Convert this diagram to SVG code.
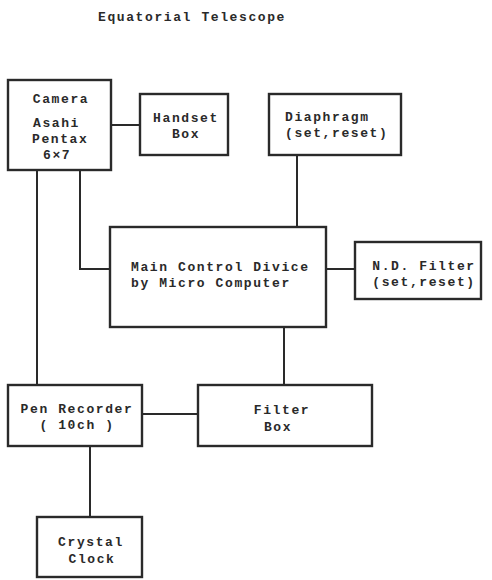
<svg xmlns="http://www.w3.org/2000/svg" width="492" height="580" viewBox="0 0 492 580">
<style>
.box{fill:none;stroke:#2a2a2a;stroke-width:2.4}
.ln{fill:none;stroke:#2a2a2a;stroke-width:2}
text{font-family:"Liberation Mono","DejaVu Sans Mono",monospace;font-size:13px;font-weight:bold;fill:#2a2a2a;letter-spacing:1.6px}
.m{text-anchor:middle}
</style>
<rect width="492" height="580" fill="#fff"/>
<text x="98" y="21">Equatorial Telescope</text>
<g id="connectors">
<path class="ln" d="M111 125H140"/>
<path class="ln" d="M297 156V227"/>
<path class="ln" d="M37 171V385"/>
<path class="ln" d="M80 171V269H110"/>
<path class="ln" d="M326 269H355"/>
<path class="ln" d="M284 327V385"/>
<path class="ln" d="M142 414H198"/>
<path class="ln" d="M90 446V517"/>
</g>
<g id="camera">
<rect class="box" x="8" y="80" width="103" height="90"/>
<text class="m" x="61" y="103">Camera</text>
<text x="33" y="127">Asahi</text>
<text x="32" y="143">Pentax</text>
<text x="43" y="159">6×7</text>
</g>
<g id="handset">
<rect class="box" x="140" y="94" width="88" height="61"/>
<text class="m" x="186" y="122">Handset</text>
<text class="m" x="186" y="138">Box</text>
</g>
<g id="diaphragm">
<rect class="box" x="269" y="94" width="132" height="61"/>
<text x="285" y="121">Diaphragm</text>
<text x="285" y="137">(set,reset)</text>
</g>
<g id="main">
<rect class="box" x="110" y="227" width="216" height="100"/>
<text x="131" y="271">Main Control Divice</text>
<text x="131" y="287">by Micro Computer</text>
</g>
<g id="ndfilter">
<rect class="box" x="355" y="242" width="126" height="57"/>
<text class="m" x="424" y="270">N.D. Filter</text>
<text class="m" x="424" y="286">(set,reset)</text>
</g>
<g id="penrecorder">
<rect class="box" x="8" y="385" width="134" height="61"/>
<text class="m" x="77" y="413">Pen Recorder</text>
<text class="m" x="77" y="429">( 10ch )</text>
</g>
<g id="filterbox">
<rect class="box" x="198" y="385" width="174" height="61"/>
<text class="m" x="282" y="414">Filter</text>
<text class="m" x="278" y="431">Box</text>
</g>
<g id="crystal">
<rect class="box" x="37" y="517" width="105" height="60"/>
<text class="m" x="91" y="546">Crystal</text>
<text class="m" x="92" y="563">Clock</text>
</g>
</svg>
